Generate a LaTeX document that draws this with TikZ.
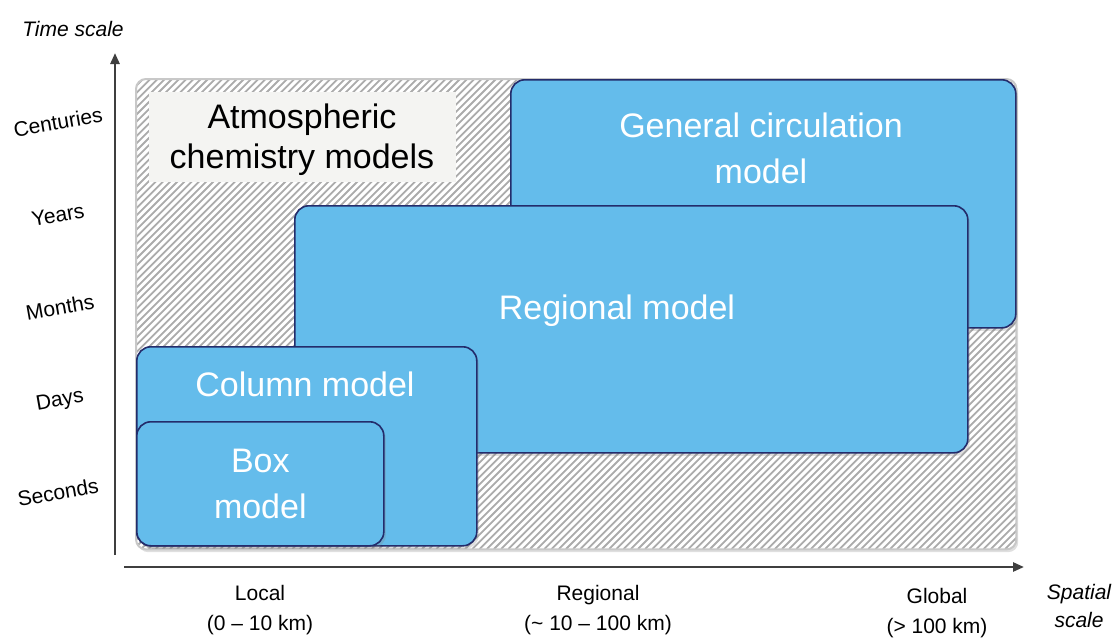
\documentclass[tikz,border=0pt]{standalone}
\usepackage{fontspec}
\setmainfont{Liberation Sans}
\usepackage{tikz}
\usetikzlibrary{arrows.meta, positioning, shadows}
\usepackage{xcolor}
\definecolor{modelblue}{HTML}{64BCEB}
\definecolor{modelnavy}{HTML}{232C6B}
\definecolor{hatchgray}{HTML}{ABABAB}
\definecolor{framegray}{HTML}{C8C8C8}
\definecolor{labelgray}{HTML}{F4F4F2}
\definecolor{axisgray}{HTML}{3F3F3F}

\tikzset{
  softshadow/.style={drop shadow={shadow xshift=2pt, shadow yshift=-3pt, opacity=0.25}},
  modelbox/.style={rectangle, rounded corners=14pt, draw=modelnavy, fill=modelblue,
      line width=1.6pt, anchor=north west, inner sep=0pt, softshadow},
  modeltext/.style={text=white, align=center, font=\fontsize{34}{46}\selectfont},
  axis/.style={draw=axisgray, line width=2.5pt, -{Triangle[length=11pt, width=9pt]}},
  ticklabel/.style={font=\fontsize{21}{30}\selectfont, align=center},
  timetick/.style={font=\fontsize{21}{30}\selectfont, rotate=10},
  axislabel/.style={font=\fontsize{21}{28}\selectfont\itshape, align=center}
}

\begin{document}
\begin{tikzpicture}[x=1pt, y=-1pt]
\useasboundingbox (0,0) rectangle (1115,637);

% hatched area of the atmospheric chemistry models
\node[rectangle, rounded corners=10pt, fill=white, anchor=north west, inner sep=0pt,
      minimum width=880pt, minimum height=470pt, softshadow] (chembg) at (136,79) {};
\begin{scope}
  \clip[rounded corners=10pt] (chembg.north west) rectangle (chembg.south east);
  \foreach \i in {0,...,196} {
    \draw[hatchgray, line width=1.8pt] (-334+\i*7.2, 549) -- ++(470,-470);
  }
\end{scope}
\draw[framegray, line width=2pt, rounded corners=10pt] (chembg.north west) rectangle (chembg.south east);

\node[rectangle, fill=labelgray, anchor=north west, inner sep=0pt,
      minimum width=307pt, minimum height=90pt] (chemlabel) at (149,92) {};
\node[align=center, font=\fontsize{34}{40}\selectfont] (chemtext) at (302,140) {Atmospheric\\chemistry models};

% model boxes
\node[modelbox, minimum width=505pt, minimum height=248pt] (gcm) at (510,79) {};
\node[modeltext] (gcmtext) at (761,148) {General circulation\\model};

\node[modelbox, minimum width=673pt, minimum height=247pt] (regional) at (294,205) {};
\node[modeltext] (regionaltext) at (617,311) {Regional model};

\node[modelbox, minimum width=340pt, minimum height=199pt] (column) at (136,346) {};
\node[modeltext] (columntext) at (305,384) {Column model};

\node[modelbox, minimum width=247pt, minimum height=124pt, modeltext] (box) at (136,421) {Box\\model};

% axes
\coordinate (yfoot) at (115,555);
\coordinate (ytip) at (115,53);
\coordinate (xfoot) at (124,567);
\coordinate (xtip) at (1024,567);
\draw[axis] (yfoot) -- (ytip);
\draw[axis] (xfoot) -- (xtip);

\node[axislabel] (timelabel) at (73,29) {Time scale};
\node[axislabel] (spacelabel) at (1079,606) {Spatial\\scale};

% time ticks
\node[timetick] (centuries) at (58,122) {Centuries};
\node[timetick] (years) at (58,215) {Years};
\node[timetick] (months) at (60,307) {Months};
\node[timetick] (days) at (60,401) {Days};
\node[timetick] (seconds) at (58,492) {Seconds};

% spatial ticks
\node[ticklabel] (local) at (260,610) {Local\\(0 -- 10 km)};
\node[ticklabel] (regionalscale) at (598,610) {Regional\\(\textasciitilde{} 10 -- 100 km)};
\node[ticklabel] (global) at (937,613) {Global\\(> 100 km)};
\end{tikzpicture}
\end{document}
